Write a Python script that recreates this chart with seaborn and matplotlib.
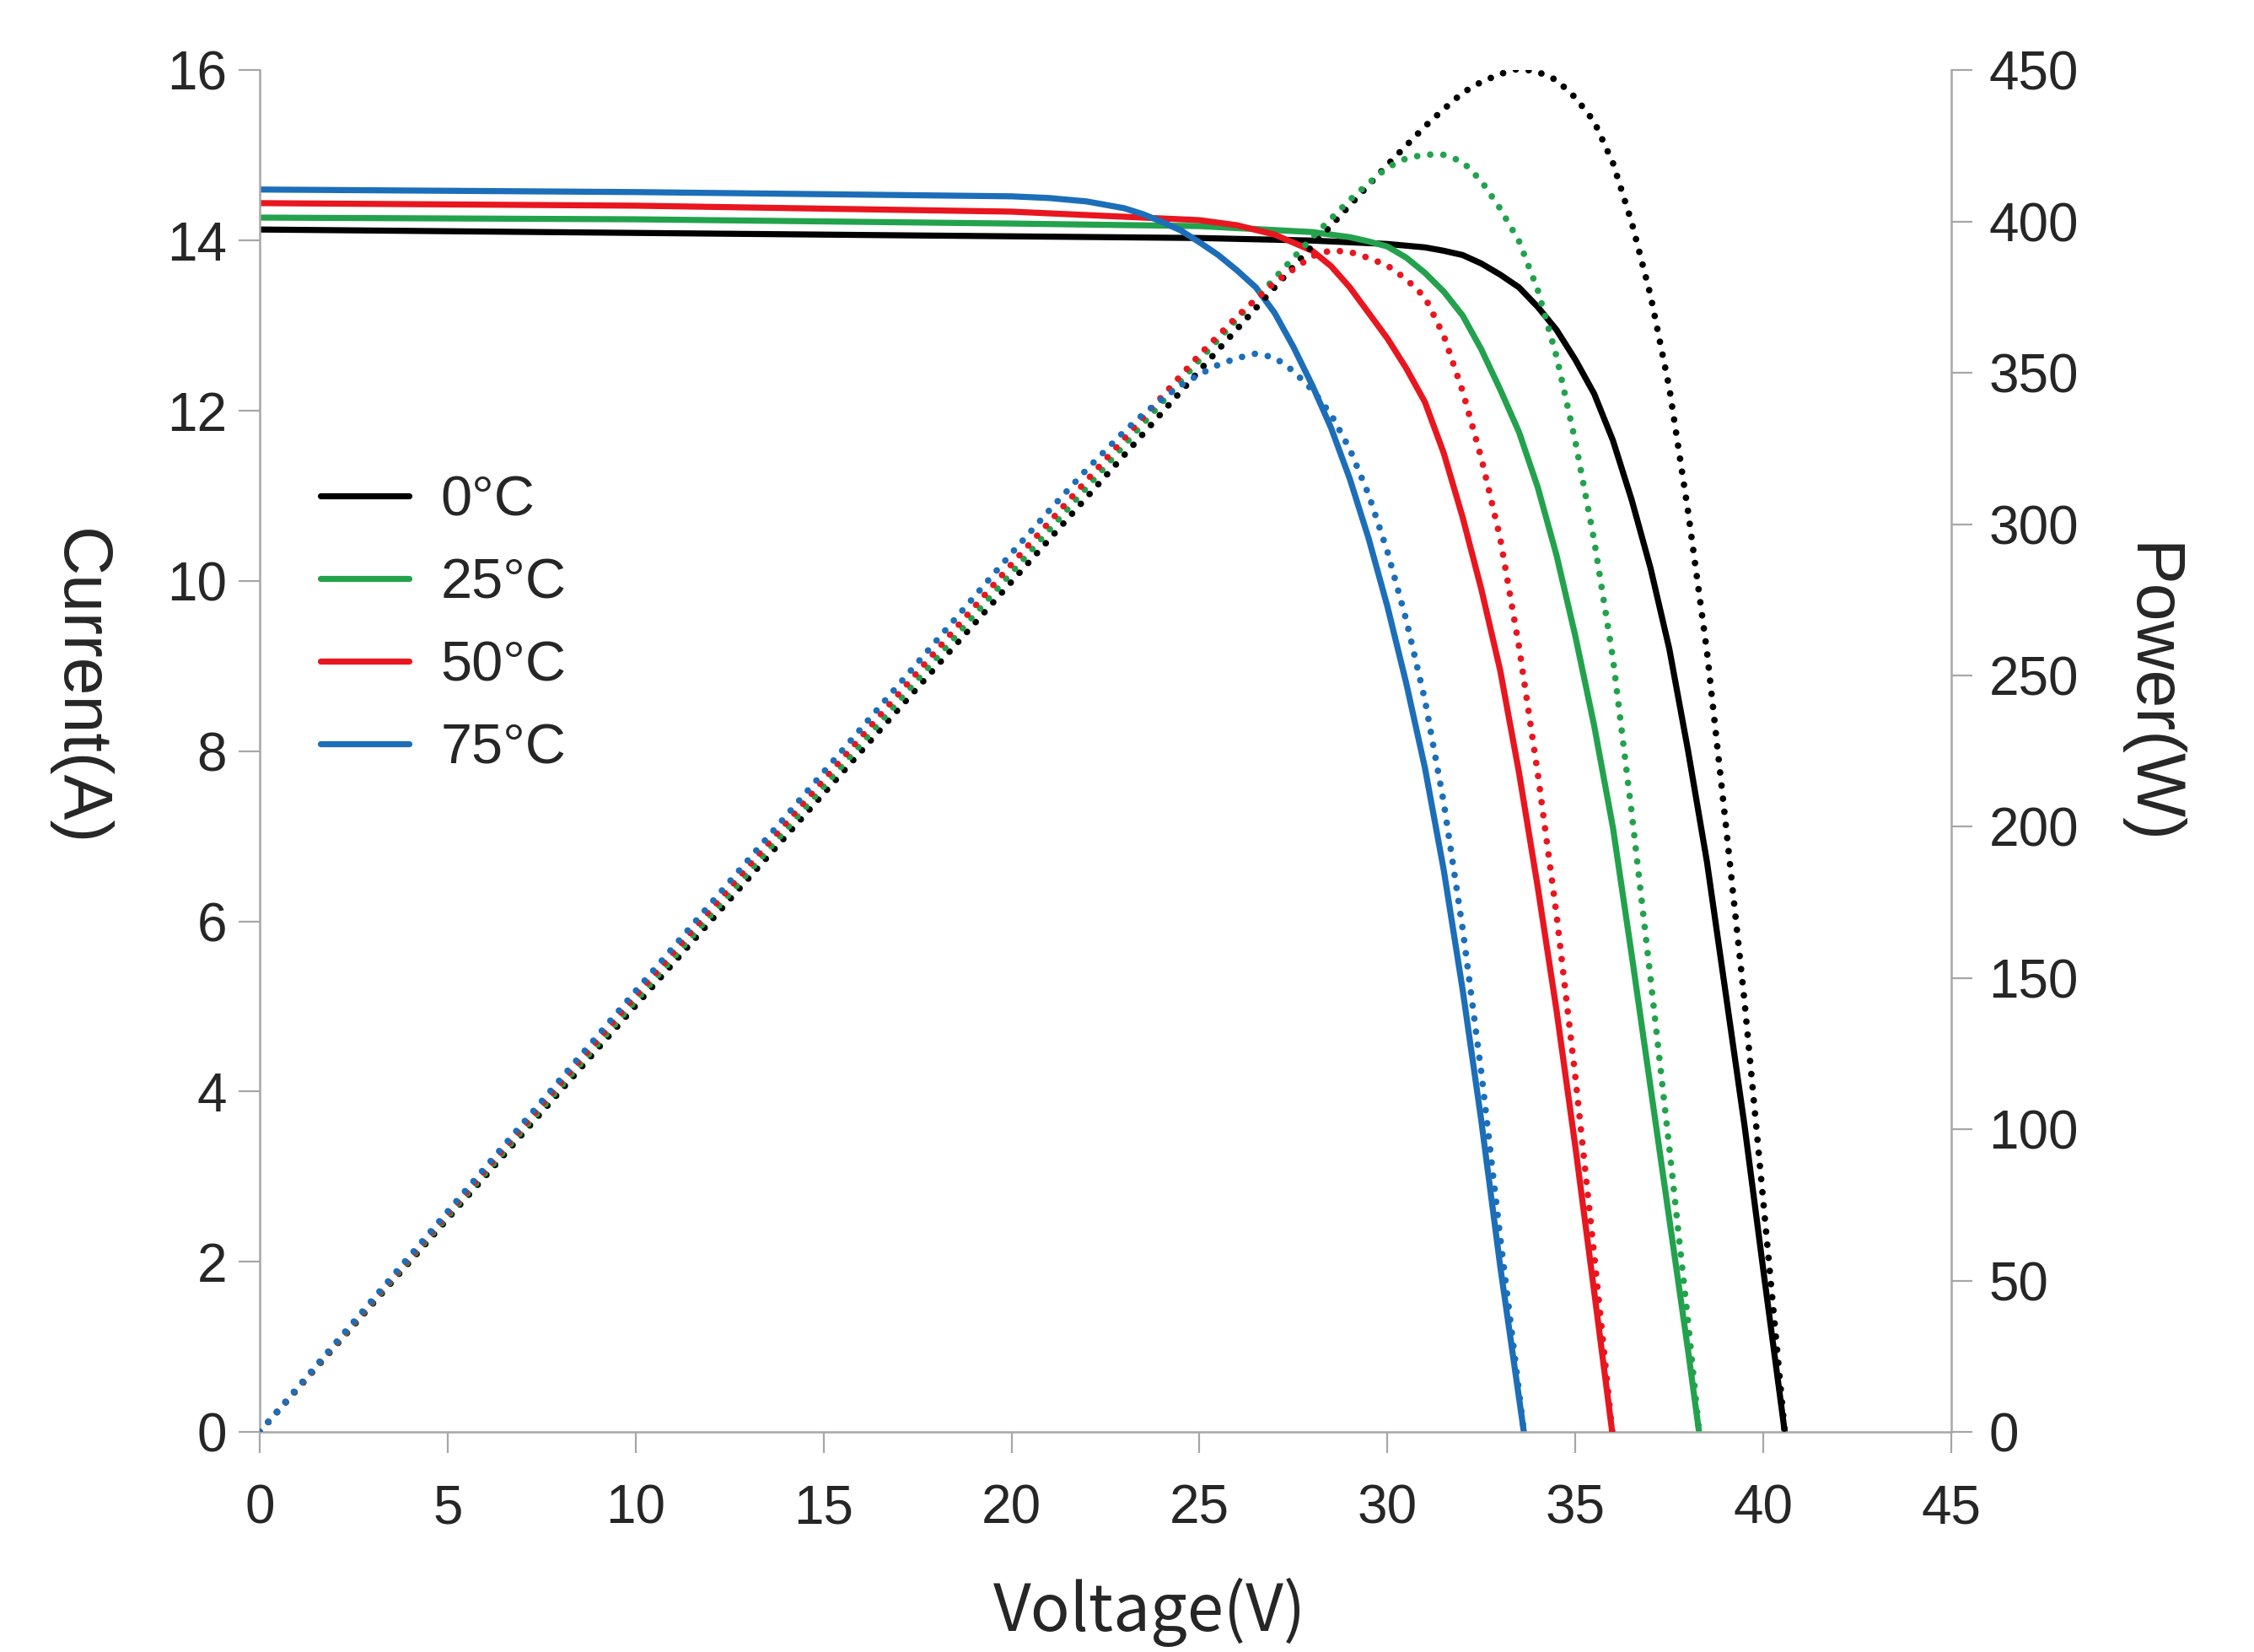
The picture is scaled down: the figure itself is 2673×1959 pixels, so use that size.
import numpy as np
import pandas as pd
import seaborn as sns
import matplotlib.pyplot as plt

# temperatures and their colours
temps = ['0°C', '25°C', '50°C', '75°C']
colors = ['#000000', '#23a24d', '#e8161f', '#1c6eb9']

# I-V and P-V curves (V in volts, I in amps, P in watts)
v_0 = [0, 10, 20, 25, 28, 30, 31, 31.5, 32, 32.5, 33, 33.5, 34, 34.5, 35, 35.5, 36, 36.5, 37, 37.5, 38, 38.5, 39, 39.5, 40, 40.57]
i_0 = [14.13, 14.09, 14.05, 14.03, 14.0, 13.96, 13.92, 13.88, 13.83, 13.73, 13.6, 13.45, 13.22, 12.95, 12.6, 12.2, 11.65, 10.95, 10.15, 9.2, 8.0, 6.7, 5.15, 3.6, 1.9, 0]
p_0 = [0, 140.9, 281, 350.8, 392, 418.8, 431.5, 437.2, 442.6, 446.2, 448.8, 450.6, 449.5, 446.8, 441, 433.1, 419.4, 399.7, 375.6, 345, 304, 258, 200.9, 142.2, 76, 0]

v_25 = [0, 10, 20, 25, 28, 29, 29.5, 30, 30.5, 31, 31.5, 32, 32.5, 33, 33.5, 34, 34.5, 35, 35.5, 36, 36.5, 37, 37.5, 38, 38.29]
i_25 = [14.27, 14.25, 14.2, 14.17, 14.1, 14.04, 13.99, 13.93, 13.8, 13.62, 13.4, 13.12, 12.72, 12.25, 11.75, 11.1, 10.3, 9.35, 8.3, 7.1, 5.6, 4.05, 2.5, 0.95, 0]
p_25 = [0, 142.5, 284, 354.3, 394.8, 407.2, 412.7, 417.9, 420.9, 422.2, 422.1, 419.8, 413.4, 404.3, 393.6, 377.4, 355.4, 327.3, 294.7, 255.6, 204.4, 149.9, 93.8, 36.1, 0]

v_50 = [0, 10, 20, 25, 26, 27, 28, 28.5, 29, 29.5, 30, 30.5, 31, 31.5, 32, 32.5, 33, 33.5, 34, 34.5, 35, 35.5, 35.98]
i_50 = [14.44, 14.41, 14.34, 14.24, 14.18, 14.07, 13.88, 13.7, 13.45, 13.15, 12.85, 12.5, 12.1, 11.5, 10.75, 9.9, 8.95, 7.75, 6.4, 4.95, 3.35, 1.65, 0]
p_50 = [0, 144.1, 286.8, 356, 368.7, 379.9, 388.6, 390.5, 390, 388, 385.5, 381, 375, 362.3, 344, 321.8, 295.4, 259.6, 217.6, 170.8, 117.3, 58.6, 0]

v_75 = [0, 10, 20, 21, 22, 23, 23.5, 24, 24.5, 25, 25.5, 26, 26.5, 27, 27.5, 28, 28.5, 29, 29.5, 30, 30.5, 31, 31.5, 32, 32.5, 33, 33.63]
i_75 = [14.6, 14.57, 14.52, 14.5, 14.46, 14.38, 14.31, 14.22, 14.12, 13.98, 13.83, 13.65, 13.45, 13.15, 12.75, 12.3, 11.8, 11.2, 10.5, 9.7, 8.8, 7.8, 6.6, 5.2, 3.65, 1.95, 0]
p_75 = [0, 145.7, 290.4, 304.5, 318.1, 330.7, 336.3, 341.3, 345.9, 349.5, 352.7, 354.9, 356.4, 355.1, 350.6, 344.4, 336.3, 324.8, 309.8, 291, 268.4, 241.8, 207.9, 166.4, 118.6, 64.4, 0]

volts = [v_0, v_25, v_50, v_75]
amps = [i_0, i_25, i_50, i_75]
watts = [p_0, p_25, p_50, p_75]

x_ticks = list(range(0, 50, 5))
i_ticks = list(range(0, 18, 2))
p_ticks = list(range(0, 500, 50))

sns.set_style('white')
plt.rcParams['font.family'] = ['Liberation Sans', 'DejaVu Sans']

fig = plt.figure(figsize=(13.365, 9.795), dpi=200)
ax = fig.add_axes([0.1152, 0.1332, 0.7505, 0.8242])
ax2 = ax.twinx()

dot = (0, (0.01, 2.0))
for label, color, v, i, p in zip(temps, colors, volts, amps, watts):
    sns.lineplot(x=v, y=i, ax=ax, color=color, lw=2.6, label=label,
                 sort=False, estimator=None)
    sns.lineplot(x=v, y=p, ax=ax2, color=color, lw=2.8, linestyle=dot,
                 dash_capstyle='round', sort=False, estimator=None)

grey = '#a6a6a6'
ax.set_xlim(0, 45)
ax.set_ylim(0, 16)
ax2.set_ylim(0, 450)
ax.set_xticks(x_ticks)
ax.set_yticks(i_ticks)
ax2.set_yticks(p_ticks)

for a in (ax, ax2):
    for s in a.spines.values():
        s.set_color(grey)
        s.set_linewidth(0.9)
    a.spines['top'].set_visible(False)
ax.spines['right'].set_visible(False)
ax2.spines['left'].set_visible(False)
ax2.spines['bottom'].set_visible(False)

ax.tick_params(axis='x', bottom=True, length=9, width=0.8, color=grey, pad=13, labelsize=23)
ax.tick_params(axis='y', left=True, length=9, width=0.8, color=grey, pad=5, labelsize=23)
ax2.tick_params(axis='y', right=True, length=9, width=0.8, color=grey, pad=7, labelsize=23)

ax.set_xlabel('Voltage(V)', fontsize=28, family=['Noto Sans CJK SC', 'DejaVu Sans'])
ax.xaxis.set_label_coords(0.526, -0.107)
ax.set_ylabel('Current(A)', fontsize=29, rotation=-90, va='center', ha='center')
ax.yaxis.set_label_coords(-0.107, 0.547)
ax2.set_ylabel('Power(W)', fontsize=29, rotation=-90, va='center', ha='center')
ax2.yaxis.set_label_coords(1.117, 0.542)

ax.legend(loc='center left', bbox_to_anchor=(0.036, 0.5925), frameon=False,
          fontsize=24, handlelength=1.57, handletextpad=0.57, labelspacing=0.54,
          borderpad=0, borderaxespad=0)

fig.savefig('out.png', dpi=200)
